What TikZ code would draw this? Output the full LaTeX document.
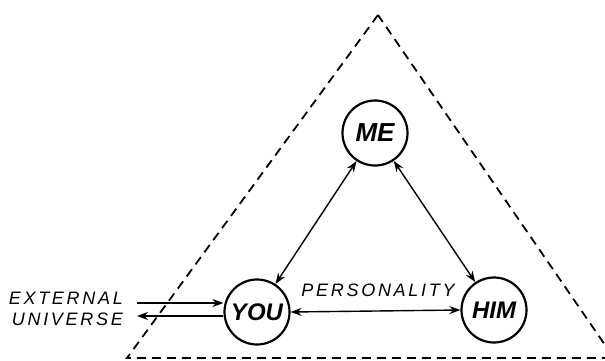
\documentclass[tikz,border=0pt]{standalone}
\usepackage{fontspec}
\usetikzlibrary{arrows.meta}
\newfontfamily\labfont[LetterSpace=15]{Liberation Sans}
\newfontfamily\nodefont{Liberation Sans}
\begin{document}
\begin{tikzpicture}[x=1pt,y=-1pt,
  person/.style={circle,draw,line width=2.2pt,minimum size=65pt,inner sep=0pt},
  link/.style={line width=1.4pt,{Stealth[length=11pt,width=8pt]}-{Stealth[length=11pt,width=8pt]}},
  ext/.style={line width=2.4pt,-{Stealth[length=11pt,width=8pt]}},
  lab/.style={font=\labfont\itshape\fontsize{18}{18}\selectfont,inner sep=0pt}]
\useasboundingbox (0,0) rectangle (605,360);
\coordinate (apex) at (378,15);
\coordinate (bl) at (127,358);
\coordinate (br) at (614,358);
\draw[line width=1.8pt,dash pattern=on 9pt off 6pt] (apex) -- (bl) -- (br) -- cycle;
\node[person,font=\nodefont\bfseries\itshape\fontsize{26}{26}\selectfont] (me) at (375,133) {ME};
\node[person,font=\nodefont\bfseries\itshape\fontsize{24}{24}\selectfont] (you) at (257,312) {YOU};
\node[person,font=\nodefont\bfseries\itshape\fontsize{24}{24}\selectfont] (him) at (494,310) {HIM};
\draw[link] (me) -- (you);
\draw[link] (me) -- (him);
\draw[link] (you.east) -- (him.west);
\node[lab,anchor=east] (ext) at (123,298) {EXTERNAL};
\node[lab,anchor=east] (uni) at (123,319) {UNIVERSE};
\node[lab] (pers) at (378,290) {PERSONALITY};
\coordinate (ein) at (137,303);
\coordinate (eout) at (137,316);
\draw[ext] (ein) -- (you.west |- ein);
\draw[ext] (you.west |- eout) -- (eout);
\end{tikzpicture}
\end{document}
